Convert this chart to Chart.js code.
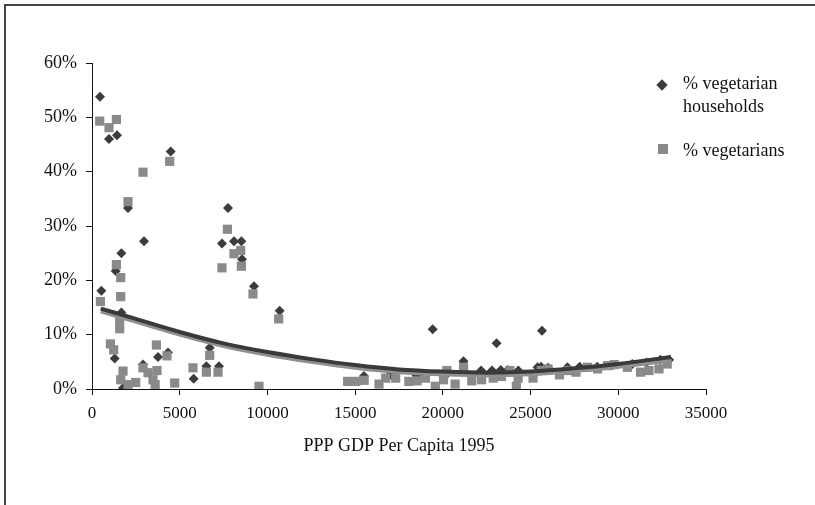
<!DOCTYPE html>
<html>
<head>
<meta charset="utf-8">
<script src="https://cdn.jsdelivr.net/npm/chart.js@4"></script>
<style>
    body { margin: 0; background: #fff; }
    #wrap { position: relative; width: 815px; height: 505px; overflow: hidden; }
    #frame { position: absolute; left: 4px; top: 4px; width: 820px; height: 520px;
             border-left: 2px solid #444; border-top: 2px solid #444; }
    #chart { position: absolute; left: 0; top: 0; }
    .legend { position: absolute; left: 683px; font-family: "Liberation Serif", serif;
              font-size: 18px; line-height: 23px; color: #111; }
    .mark { position: absolute; }
</style>
</head>
<body>
<div id="wrap">
    <div id="frame"></div>
    <canvas id="chart" width="815" height="505"></canvas>
    <div class="mark" style="left:658px;top:81px;width:8px;height:8px;background:#3c3c3c;transform:rotate(45deg);"></div>
    <div class="legend" style="top:72px;">% vegetarian<br>households</div>
    <div class="mark" style="left:658px;top:144px;width:10px;height:10px;background:#8a8a8a;"></div>
    <div class="legend" style="top:139px;">% vegetarians</div>
</div>
<script>
// 数据：% vegetarian households（菱形）
const householdsX = [456, 970, 1425, 4486, 2052, 2964, 1676, 536, 1351, 1676, 1294, 1767, 2907, 3762, 4332,
    5797, 6709, 6520, 7240, 7752, 7410, 8094, 8515, 8550, 9234, 10700, 15500, 17000, 18500, 19422,
    20300, 21178, 22180, 22800, 23063, 23300, 23700, 24300, 25400, 25600, 25651, 26000, 27100, 27800,
    28800, 29700, 30800, 31600, 32400, 32900];
const householdsY = [53.8, 46.0, 46.7, 43.7, 33.3, 27.2, 25.0, 18.1, 21.7, 14.1, 5.6, 0.2, 4.5, 5.9, 6.7,
    1.9, 7.6, 4.2, 4.2, 33.3, 26.8, 27.2, 27.2, 23.9, 18.9, 14.4, 2.4, 2.6, 2.5, 11.0,
    3.0, 5.1, 3.4, 3.4, 8.4, 3.5, 3.5, 3.4, 4.0, 4.1, 10.7, 3.9, 4.0, 4.1,
    4.1, 4.4, 4.6, 4.9, 5.4, 5.4];

// 数据：% vegetarians（方块）
const vegetariansX = [439, 970, 1390, 2907, 4429, 2052, 1390, 1636, 1636, 479, 1579, 1579, 1049, 1237, 1767,
    1636, 2052, 2491, 2907, 3192, 3477, 3705, 3600, 3671, 4275, 4714, 5757, 6520, 7182, 6709,
    7410, 7718, 8094, 8476, 8515, 9177, 9519, 10642,
    14570, 15040, 15514, 16360, 16740, 17310, 18060, 18530, 19010, 19570, 20040, 20230, 20700, 21180,
    21650, 22210, 22870, 23340, 23820, 24190, 24290, 25140, 25610, 25990, 26650, 27120, 27590, 28250,
    28820, 29390, 29770, 30520, 31270, 31750, 32320, 32790];
const vegetariansY = [49.3, 48.1, 49.6, 39.9, 41.9, 34.5, 22.9, 20.5, 17.0, 16.1, 12.7, 11.1, 8.3, 7.2, 3.3,
    1.7, 0.8, 1.2, 3.9, 3.0, 1.7, 3.4, 0.8, 8.1, 6.1, 1.1, 3.9, 3.1, 3.1, 6.2,
    22.3, 29.4, 24.9, 25.5, 22.6, 17.5, 0.5, 12.9,
    1.4, 1.4, 1.6, 0.9, 2.0, 2.0, 1.4, 1.5, 2.0, 0.5, 1.7, 3.4, 0.9, 4.0,
    1.5, 1.7, 2.0, 2.3, 3.4, 0.5, 2.0, 2.0, 3.4, 3.7, 2.6, 3.4, 3.1, 4.0,
    3.7, 4.3, 4.5, 4.0, 3.1, 3.4, 3.7, 4.6];

// 趋势线（从图上读取的点）
const trendX = [500, 2500, 5000, 7500, 10000, 12500, 15000, 17500, 20000, 22500, 25000, 27500, 30000, 33000];
const trendHouseholds = [14.8, 12.9, 10.5, 8.4, 6.8, 5.5, 4.4, 3.6, 3.2, 3.0, 3.2, 3.8, 4.6, 5.9];
const trendVegetarians = [14.3, 12.4, 10.0, 7.9, 6.3, 5.0, 3.9, 3.1, 2.7, 2.5, 2.7, 3.3, 4.1, 5.3];

// 刻度
const xTicks = [0, 5000, 10000, 15000, 20000, 25000, 30000, 35000];
const yTicks = [0, 10, 20, 30, 40, 50, 60];

const toPoints = (xs, ys) => xs.map((x, i) => ({ x: x, y: ys[i] }));

new Chart(document.getElementById('chart'), {
    type: 'scatter',
    data: {
        datasets: [
            {
                label: 'trend households',
                type: 'line',
                data: toPoints(trendX, trendHouseholds),
                borderColor: '#3a3a3a',
                borderWidth: 4,
                pointRadius: 0,
                cubicInterpolationMode: 'monotone',
                order: 0
            },
            {
                label: 'trend vegetarians',
                type: 'line',
                data: toPoints(trendX, trendVegetarians),
                borderColor: '#909090',
                borderWidth: 4,
                pointRadius: 0,
                cubicInterpolationMode: 'monotone',
                order: 1
            },
            {
                label: '% vegetarians',
                data: toPoints(vegetariansX, vegetariansY),
                pointStyle: 'rect',
                pointRadius: 6.5,
                pointBackgroundColor: '#8a8a8a',
                pointBorderWidth: 0,
                order: 2
            },
            {
                label: '% vegetarian households',
                data: toPoints(householdsX, householdsY),
                pointStyle: 'rectRot',
                pointRadius: 5,
                pointBackgroundColor: '#3c3c3c',
                pointBorderWidth: 0,
                order: 3
            }
        ]
    },
    options: {
        responsive: false,
        animation: false,
        layout: { padding: { left: 32, right: 109, top: 63, bottom: 48 } },
        plugins: { legend: { display: false }, tooltip: { enabled: false } },
        scales: {
            x: {
                type: 'linear',
                min: 0,
                max: 35000,
                afterBuildTicks: axis => { axis.ticks = xTicks.map(v => ({ value: v })); },
                ticks: {
                    font: { family: 'Liberation Serif', size: 17 },
                    color: '#111',
                    padding: 8,
                    maxRotation: 0,
                    callback: v => String(v)
                },
                grid: { drawOnChartArea: false, tickLength: 6, tickColor: '#111' },
                border: { color: '#111', width: 1 },
                title: {
                    display: true,
                    text: 'PPP GDP Per Capita 1995',
                    font: { family: 'Liberation Serif', size: 18 },
                    color: '#111',
                    padding: { top: 4, bottom: 0 }
                }
            },
            y: {
                min: 0,
                max: 60,
                afterBuildTicks: axis => { axis.ticks = yTicks.map(v => ({ value: v })); },
                afterFit: scale => { scale.width = 60; },
                ticks: {
                    font: { family: 'Liberation Serif', size: 18 },
                    color: '#111',
                    padding: 9,
                    callback: v => v + '%'
                },
                grid: { drawOnChartArea: false, tickLength: 6, tickColor: '#111' },
                border: { color: '#111', width: 1 }
            }
        }
    }
});
</script>
</body>
</html>
